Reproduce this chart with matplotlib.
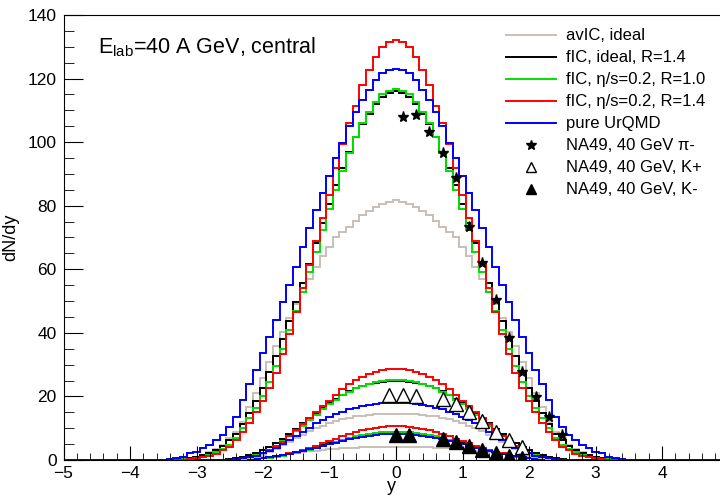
import numpy as np
import matplotlib.pyplot as plt

plt.rcParams['font.family'] = ['Liberation Sans', 'DejaVu Sans']
plt.rcParams['mathtext.fontset'] = 'custom'
plt.rcParams['mathtext.rm'] = 'Liberation Sans'
plt.rcParams['mathtext.it'] = 'Liberation Sans'

# histograms are symmetric in y, so only the y >= 0 half is listed
# bins are 0.1 wide and centred on y = 0.0, 0.1, 0.2, ...
# pi- (bins y = 0.0 ... 3.5)
pi_avic = [81.8, 81.3, 80.5, 79.7, 78.4, 77.1, 75.3, 73.4, 71.8, 70.1,
           67.1, 64.2, 60.8, 57.0, 53.0, 49.2, 44.8, 40.3, 35.8, 30.8,
           25.8, 21.0, 16.6, 12.0, 8.9, 6.9, 4.7, 3.4, 2.4, 1.7,
           1.1, 0.7, 0.4, 0.2, 0.1, 0.0]
pi_fic_ideal = [116.0, 115.5, 114.2, 112.0, 109.0, 105.6, 101.6, 97.0, 92.0, 86.6,
                80.6, 74.6, 68.2, 61.8, 55.6, 49.6, 43.6, 38.0, 32.6, 27.6,
                22.8, 18.6, 14.8, 11.2, 8.2, 6.2, 4.5, 3.2, 2.2, 1.5,
                1.0, 0.6, 0.4, 0.2, 0.1, 0.0]
pi_fic_visc10 = [116.8, 116.2, 115.1, 112.7, 109.6, 106.0, 101.5, 96.5, 91.0, 85.0,
                 79.0, 72.5, 65.5, 59.0, 53.0, 47.0, 41.0, 35.0, 29.5, 24.5,
                 20.0, 16.5, 13.2, 10.0, 6.8, 4.7, 3.4, 2.4, 1.6, 1.1,
                 0.7, 0.4, 0.2, 0.1, 0.0, 0.0]
pi_fic_visc14 = [132.1, 131.4, 129.8, 126.9, 122.7, 118.0, 111.4, 106.0, 99.5, 92.0,
                 83.5, 76.0, 69.0, 61.5, 54.0, 46.5, 39.5, 33.5, 27.5, 22.5,
                 18.5, 15.0, 11.6, 8.9, 6.3, 4.2, 3.0, 2.0, 1.3, 0.8,
                 0.5, 0.3, 0.15, 0.05, 0.0, 0.0]
pi_urqmd = [123.0, 122.7, 121.6, 119.5, 116.4, 113.2, 109.5, 105.0, 99.6, 94.9,
            89.3, 83.9, 78.6, 72.9, 67.0, 60.8, 55.0, 49.8, 44.0, 38.8,
            33.6, 28.3, 24.0, 18.8, 13.6, 10.5, 7.9, 6.3, 4.7, 3.7,
            2.6, 2.1, 1.0, 0.7, 0.4, 0.1]

# K+ (bins y = 0.0 ... 2.6)
kp_avic = [14.6, 14.6, 14.5, 14.4, 14.2, 14.0, 13.7, 13.3, 12.8, 12.2,
           11.6, 10.8, 10.0, 9.0, 7.9, 6.8, 5.8, 4.6, 3.5, 2.5,
           1.7, 1.1, 0.7, 0.4, 0.2, 0.1, 0.0]
kp_fic_ideal = [24.9, 24.8, 24.6, 24.3, 23.8, 23.2, 22.5, 21.6, 20.5, 19.2,
                17.8, 16.3, 14.8, 13.2, 11.6, 9.9, 8.2, 6.7, 5.2, 4.0,
                3.0, 2.2, 1.5, 1.0, 0.6, 0.3, 0.1]
kp_fic_visc10 = [25.2, 25.1, 24.9, 24.5, 24.0, 23.3, 22.5, 21.5, 20.3, 19.0,
                 17.5, 16.0, 14.3, 12.5, 10.8, 9.1, 7.4, 5.9, 4.5, 3.3,
                 2.3, 1.5, 1.0, 0.6, 0.3, 0.15, 0.05]
kp_fic_visc14 = [28.6, 28.5, 28.2, 27.7, 27.0, 26.1, 25.1, 23.9, 22.4, 20.6,
                 18.7, 16.9, 15.0, 13.1, 11.2, 9.3, 7.4, 5.8, 4.3, 3.1,
                 2.1, 1.4, 0.9, 0.5, 0.3, 0.15, 0.05]
kp_urqmd = [18.0, 17.95, 17.8, 17.6, 17.3, 16.9, 16.4, 15.9, 15.2, 14.4,
            13.6, 12.6, 11.5, 10.2, 8.9, 7.6, 6.3, 5.0, 3.8, 2.9,
            2.1, 1.4, 0.9, 0.5, 0.3, 0.15, 0.05]

# K- (bins y = 0.0 ... 2.6)
km_avic = [4.2, 4.2, 4.2, 4.1, 4.1, 4.0, 3.9, 3.8, 3.7, 3.5,
           3.4, 3.2, 2.9, 2.7, 2.4, 2.2, 1.9, 1.6, 1.4, 1.1,
           0.9, 0.7, 0.5, 0.3, 0.2, 0.1, 0.0]
km_fic_ideal = [8.7, 8.65, 8.5, 8.3, 8.0, 7.7, 7.3, 6.8, 6.3, 5.8,
                5.2, 4.6, 4.0, 3.5, 2.9, 2.4, 1.95, 1.5, 1.15, 0.85,
                0.6, 0.4, 0.25, 0.15, 0.1, 0.05, 0.0]
km_fic_visc10 = [8.9, 8.85, 8.7, 8.5, 8.2, 7.8, 7.4, 6.9, 6.3, 5.7,
                 5.1, 4.5, 3.9, 3.3, 2.8, 2.3, 1.8, 1.4, 1.05, 0.75,
                 0.5, 0.35, 0.2, 0.1, 0.05, 0.0, 0.0]
km_fic_visc14 = [10.8, 10.7, 10.5, 10.2, 9.8, 9.3, 8.7, 8.1, 7.4, 6.7,
                 5.9, 5.2, 4.5, 3.8, 3.2, 2.6, 2.1, 1.6, 1.2, 0.9,
                 0.6, 0.4, 0.25, 0.15, 0.05, 0.0, 0.0]
km_urqmd = [8.3, 8.25, 8.1, 7.9, 7.6, 7.3, 6.9, 6.5, 6.0, 5.5,
            5.0, 4.5, 3.9, 3.4, 2.9, 2.4, 2.0, 1.6, 1.2, 0.9,
            0.6, 0.4, 0.25, 0.15, 0.1, 0.05, 0.0]

# NA49 data
na49_pi_y = [0.1, 0.3, 0.5, 0.7, 0.9, 1.1, 1.3, 1.5, 1.7, 1.9, 2.1, 2.3, 2.5]
na49_pi = [108.0, 108.5, 103.3, 96.5, 88.6, 73.4, 61.9, 50.2, 38.3, 27.6, 19.9, 13.4, 7.9]
na49_kp_y = [-0.1, 0.1, 0.3, 0.7, 0.9, 1.1, 1.3, 1.5, 1.7, 1.9]
na49_kp = [20.4, 20.4, 20.1, 19.2, 17.5, 15.2, 12.3, 8.9, 6.3, 4.2]
na49_km_y = [0.0, 0.2, 0.7, 0.9, 1.1, 1.3, 1.5, 1.7, 1.9]
na49_km = [7.9, 7.9, 6.5, 5.8, 4.4, 3.1, 2.1, 1.3, 0.5]

models = ['avIC, ideal', 'fIC, ideal, R=1.4', 'fIC, \u03b7/s=0.2, R=1.0',
          'fIC, \u03b7/s=0.2, R=1.4', 'pure UrQMD']
colors = ['#c8bfb9', 'black', '#00e000', 'red', 'blue']
pi_sets = [pi_avic, pi_fic_ideal, pi_fic_visc10, pi_fic_visc14, pi_urqmd]
kp_sets = [kp_avic, kp_fic_ideal, kp_fic_visc10, kp_fic_visc14, kp_urqmd]
km_sets = [km_avic, km_fic_ideal, km_fic_visc10, km_fic_visc14, km_urqmd]

nb = 50
edges = (np.arange(-nb, nb + 2) - 0.5) * 0.1


def full_hist(half):
    # mirror the y>=0 half onto bins -5..5
    h = np.zeros(2 * nb + 1)
    half = np.asarray(half)
    h[nb:nb + len(half)] = half
    h[nb - len(half) + 1:nb + 1] = half[::-1]
    return h


fig = plt.figure(figsize=(7.2, 4.98), dpi=100)
ax = fig.add_axes([63.5 / 720, 38 / 498, 1 - 63.5 / 720, 445 / 498])

for sets in (km_sets, kp_sets, pi_sets):
    for half, c in zip(sets, colors):
        ax.stairs(full_hist(half), edges, color=c, lw=1.4, baseline=None)

ax.plot(na49_pi_y, na49_pi, ls='none', marker='*', ms=8, color='black')
ax.plot(na49_kp_y, na49_kp, ls='none', marker='^', ms=10, mfc='white',
        mec='black', mew=1.0)
ax.plot(na49_km_y, na49_km, ls='none', marker='^', ms=10, color='black')

# legend
handles = [plt.Line2D([], [], color=c, lw=1.4) for c in colors]
handles += [plt.Line2D([], [], ls='none', marker='*', ms=7, color='black'),
            plt.Line2D([], [], ls='none', marker='^', ms=7, mfc='white', mec='black'),
            plt.Line2D([], [], ls='none', marker='^', ms=7, color='black')]
labels = models + ['NA49, 40 GeV \u03c0-', 'NA49, 40 GeV, K+', 'NA49, 40 GeV, K-']
ax.legend(handles, labels, loc='upper left', bbox_to_anchor=(0.664, 0.985),
          frameon=False, fontsize=12, handlelength=3.0, handletextpad=0.6,
          labelspacing=0.42, borderaxespad=0)

ax.text(0.052, 0.955, r'E$_{\mathrm{lab}}$=40 A GeV, central', transform=ax.transAxes,
        fontsize=15.5, va='top')

ax.set_xlim(-5, -5 + 656.5 / 66.5)
ax.set_ylim(0, 140)
ax.set_xticks(np.arange(-5, 5, 1))
ax.set_xticks(np.arange(-5, 4.9, 0.2), minor=True)
ax.set_yticks(np.arange(0, 141, 20))
ax.set_yticks(np.arange(0, 141, 5), minor=True)
ax.tick_params(which='both', direction='in', labelsize=12.5, top=False, right=False)
ax.tick_params(axis='y', which='major', length=14, pad=5)
ax.tick_params(axis='y', which='minor', length=7)
ax.tick_params(axis='x', which='major', length=10, pad=4)
ax.tick_params(axis='x', which='minor', length=5)
ax.spines['right'].set_visible(False)
ax.set_xlabel('y', fontsize=13, labelpad=-2)
ax.set_ylabel('dN/dy', fontsize=13, labelpad=6)

fig.savefig('out.png', dpi=100)
